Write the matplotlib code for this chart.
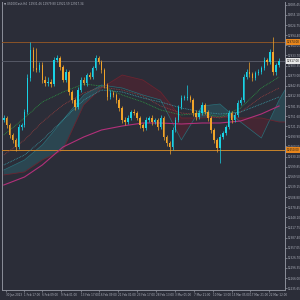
import matplotlib
matplotlib.use("Agg")
import matplotlib.pyplot as plt
import matplotlib.transforms as mtransforms
import numpy as np

# ---------------- data ----------------
close = [12746, 12725, 12695, 12680, 12659, 12719, 12725, 12764, 12866, 12950,
         12896, 12890, 12905, 12860, 12851, 12854, 12848, 12920, 12926, 12899,
         12860, 12884, 12824, 12800, 12779, 12830, 12860, 12851, 12875, 12869,
         12896, 12926, 12914, 12890, 12845, 12809, 12821, 12815, 12800, 12776,
         12740, 12734, 12746, 12764, 12761, 12746, 12725, 12716, 12740, 12746,
         12734, 12740, 12719, 12746, 12689, 12671, 12659, 12710, 12740, 12779,
         12806, 12806, 12809, 12800, 12761, 12749, 12761, 12785, 12764, 12746,
         12710, 12680, 12656, 12689, 12701, 12719, 12761, 12740, 12755, 12791,
         12800, 12869, 12884, 12878, 12866, 12881, 12884, 12896, 12920, 12914,
         12944, 12884, 12905, 12917]
first_open = 12740
wick_hi = [8, 6, 5, 6, 5, 8, 6, 10, 12, 24,
           10, 60, 8, 10, 12, 14, 10, 8, 10, 6,
           6, 8, 6, 6, 6, 8, 10, 8, 6, 8,
           6, 8, 6, 6, 6, 6, 10, 6, 6, 6,
           6, 8, 8, 6, 8, 6, 6, 6, 8, 6,
           8, 6, 6, 8, 6, 6, 6, 8, 8, 6,
           10, 8, 36, 6, 6, 8, 8, 10, 6, 6,
           6, 6, 6, 8, 6, 6, 8, 6, 8, 8,
           8, 8, 8, 30, 6, 6, 8, 6, 10, 6,
           10, 45, 6, 8]
wick_lo = [6, 8, 8, 8, 12, 6, 8, 6, 6, 8,
           8, 6, 6, 8, 10, 8, 8, 6, 6, 8,
           6, 6, 8, 8, 10, 6, 6, 6, 8, 6,
           6, 6, 6, 8, 8, 8, 6, 6, 8, 8,
           10, 8, 6, 6, 6, 6, 8, 10, 6, 6,
           8, 6, 8, 6, 8, 10, 20, 8, 6, 6,
           6, 6, 6, 6, 8, 8, 6, 6, 6, 8,
           8, 10, 12, 45, 6, 6, 6, 8, 6, 6,
           6, 6, 6, 8, 8, 6, 6, 6, 6, 8,
           6, 10, 8, 6]

ind_idx = [0, 7, 13, 20, 27, 33, 40, 47, 53, 60, 67, 73, 80, 87, 93]
ma_green = [12695, 12746, 12794, 12824, 12848, 12842, 12815, 12794, 12770, 12755, 12761, 12749, 12776, 12836, 12869]
ma_red = [12635, 12680, 12734, 12785, 12821, 12839, 12830, 12812, 12782, 12761, 12755, 12746, 12764, 12809, 12836]
ma_teal = [12605, 12635, 12680, 12740, 12800, 12830, 12824, 12806, 12794, 12776, 12764, 12758, 12764, 12788, 12809]
ma_slow = [12545, 12569, 12605, 12659, 12689, 12710, 12722, 12731, 12731, 12728, 12731, 12731, 12737, 12758, 12782]

span_idx = [0, 7, 13, 20, 27, 33, 40, 47, 53, 60, 67, 73, 80, 87, 93, 95]
span_a = [12590, 12620, 12665, 12740, 12815, 12845, 12836, 12815, 12800, 12680, 12782, 12788, 12734, 12686, 12800, 12830]
span_b = [12575, 12584, 12620, 12650, 12785, 12836, 12875, 12860, 12824, 12746, 12746, 12749, 12746, 12746, 12734, 12734]

level_high = 12974
level_low = 12650
price_now = 12917

time_idx = [0.7, 6.7, 13, 19.3, 26, 32.3, 38.7, 45, 51.3, 57.7, 64.3, 70.7, 77, 83.3, 89.7]
time_labels = ["30 Jan 2023", "1 Feb 17:00", "6 Feb 09:00", "9 Feb 01:00", "13 Feb 17:00",
               "16 Feb 09:00", "21 Feb 01:00", "23 Feb 17:00", "28 Feb 13:00", "3 Mar 05:00",
               "7 Mar 21:00", "10 Mar 13:00", "15 Mar 05:00", "17 Mar 21:00", "22 Mar 12:00"]

header = "\u25BC US100Cash,H4  12931.46 12979.80 12921.59 12917.34"

# ---------------- styling ----------------
BG = "#2b2d38"
UP = "#19d3e6"
DN = "#f0a42a"
FG = "#aeb1bc"
FS = 2.0

fig = plt.figure(figsize=(3, 3), dpi=100, facecolor=BG)
ax = fig.add_axes([2 / 300, 10 / 300, 283 / 300, 288 / 300], facecolor=BG)

n = len(close)
x = np.arange(n)
opens = [first_open] + close[:-1]
for i in range(n):
    o, c = opens[i], close[i]
    col = UP if c >= o else DN
    hi = max(o, c) + wick_hi[i]
    lo = min(o, c) - wick_lo[i]
    ax.vlines(x[i], lo, hi, color=col, lw=0.5, zorder=5)
    ax.bar(x[i], max(abs(c - o), 2), bottom=min(o, c), width=0.5, color=col,
           edgecolor="none", zorder=6)

# ichimoku-like cloud
sa = np.array(span_a, float)
sb = np.array(span_b, float)
ax.fill_between(span_idx, sa, sb, where=sa >= sb, interpolate=True,
                color="#2c6670", alpha=0.45, lw=0, zorder=2)
ax.fill_between(span_idx, sa, sb, where=sa < sb, interpolate=True,
                color="#5a2230", alpha=0.55, lw=0, zorder=2)
ax.plot(span_idx, span_a, color="#2a6e78", lw=0.5, zorder=3)
ax.plot(span_idx, span_b, color="#6a2430", lw=0.6, zorder=3)

# moving averages
ax.plot(ind_idx, ma_green, color="#2e9a44", lw=0.6, ls=(0, (1, 1)), zorder=4)
ax.plot(ind_idx, ma_red, color="#9a4040", lw=0.6, ls=(0, (1, 1)), zorder=4)
ax.plot(ind_idx, ma_teal, color="#3a9aa5", lw=0.6, ls=(0, (1, 1)), zorder=4)
ax.plot(ind_idx, ma_slow, color="#b3307a", lw=0.8, zorder=4)

# horizontal levels
ax.axhline(level_high, color="#8a5428", lw=0.7, zorder=3)
ax.axhline(level_low, color="#c8842a", lw=0.7, zorder=3)
ax.axhline(price_now, color="#565966", lw=0.7, zorder=3)

ax.set_xlim(-0.6, 95)
ax.set_ylim(12230, 13094)

ax.spines["top"].set_visible(False)
for s in ["left", "bottom", "right"]:
    ax.spines[s].set_color("#8c8f9a")
    ax.spines[s].set_linewidth(0.7)

ticks = [13085.45 - 30.35 * i for i in range(29)]
ax.yaxis.tick_right()
ax.set_yticks(ticks)
ax.set_yticklabels([f"{t:.2f}" for t in ticks])
ax.tick_params(axis="y", colors=FG, labelsize=FS, length=1.2, width=0.4, pad=1.0)
ax.set_xticks(time_idx)
ax.set_xticklabels(time_labels, ha="left")
ax.tick_params(axis="x", colors=FG, labelsize=FS, length=1.2, width=0.4, pad=0.8)

# right-axis price boxes
trans = mtransforms.blended_transform_factory(ax.transAxes, ax.transData)
for val, bg, fg in [(level_high, "#e8861c", "#1a1a1a"), (price_now, "#e8e8e8", "#1a1a1a"),
                    (level_low, "#e8861c", "#1a1a1a")]:
    ax.text(1.006, val, f"{val:.2f}", transform=trans, fontsize=FS, color=fg,
            va="center", ha="left", zorder=10,
            bbox=dict(boxstyle="square,pad=0.2", fc=bg, ec="none"), clip_on=False)

fig.text(4 / 300, 1 - 4 / 300, header, fontsize=FS, color=FG, va="center", ha="left")

fig.savefig("out.png", dpi=100, facecolor=BG)
